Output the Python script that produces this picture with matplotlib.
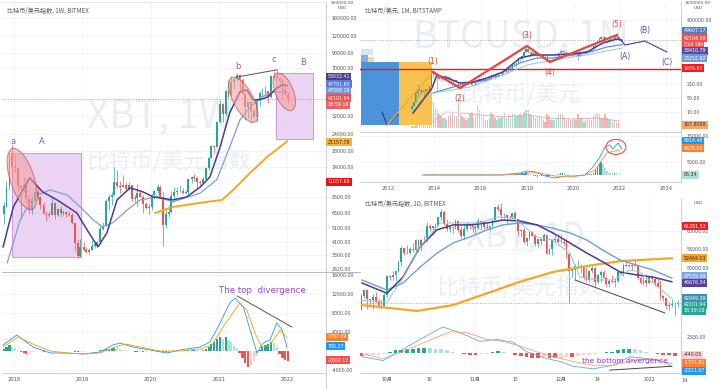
import numpy as np
import pandas as pd
import matplotlib
matplotlib.use('Agg')
import matplotlib.pyplot as plt
import matplotlib.transforms as mtransforms
from matplotlib.patches import Ellipse, Rectangle
from matplotlib.lines import Line2D
from matplotlib.ticker import NullLocator

CJK = ['Noto Sans CJK SC', 'DejaVu Sans']
UP, DN = '#26a69a', '#ef5350'

# -----------------------------
# Left panel: XBT 1W (read at half-month steps)
# -----------------------------
l_first_open = 6450
l_close = [7300, 10000, 17600, 13900,
           13600, 10200, 10100, 10300, 8250, 6900, 8000, 9240, 8500, 7500, 6450, 6400,
           6350, 7730, 6300, 7030, 6500, 6630, 6450, 6370, 5600, 4020, 3250, 3740,
           3600, 3460, 3600, 3830, 3920, 4100, 5050, 5320, 8000, 8560, 8800, 10820,
           10200, 10080, 10300, 9630, 10300, 8290, 8350, 9150, 8500, 7550, 7100, 7190,
           8800, 9350, 10000, 8540, 5350, 6420, 6650, 8630, 9300, 9450, 9450, 9140,
           9200, 11350, 11850, 11650, 10800, 10780, 11500, 13800, 16000, 19700, 19400, 28990,
           39000, 33110, 48000, 45240, 56000, 58800, 63200, 57700, 46400, 37300, 40100, 35040,
           31800, 41460, 47000, 47100, 48100, 43820, 61500, 61300, 60100, 57000, 48900, 46300,
           42100]
l_high = [7900, 11000, 17900, 19800,
          17300, 13700, 10300, 11800, 11700, 8900, 8400, 9800, 10000, 8600, 7800, 6800,
          6800, 8500, 7800, 7150, 7400, 6900, 6700, 6800, 6600, 5600, 4300, 4250,
          4100, 3750, 3700, 4200, 4000, 4150, 5450, 5650, 8300, 9000, 9300, 13900,
          13200, 11000, 12300, 10900, 10950, 10400, 8850, 10500, 9500, 8800, 7800, 7700,
          8900, 9550, 10500, 10300, 9200, 7000, 7450, 9450, 10000, 9950, 10400, 9800,
          9500, 11450, 12100, 12450, 12050, 11200, 11750, 13900, 16300, 19850, 19900, 29300,
          41950, 39500, 49700, 58350, 61700, 60000, 64850, 63500, 59500, 46600, 41300, 41300,
          36600, 42300, 48000, 50500, 52900, 48500, 62900, 67000, 69000, 60800, 59000, 52100,
          47500]
l_low = [5500, 7200, 9600, 12000,
         12800, 9400, 5900, 9300, 7800, 6600, 6400, 7900, 8100, 7000, 6400, 5750,
         6100, 6300, 5900, 6200, 6100, 6300, 6150, 6250, 5500, 3500, 3150, 3200,
         3500, 3400, 3350, 3600, 3700, 3880, 4100, 4950, 5300, 6900, 7450, 8800,
         9800, 9100, 10000, 9400, 9600, 7800, 7900, 7300, 8500, 6550, 7050, 6450,
         6850, 8250, 9150, 8450, 3800, 5100, 6150, 6500, 8100, 8800, 9300, 8900,
         9000, 9000, 10650, 11150, 9850, 10150, 10450, 11200, 13200, 16000, 17600, 19300,
         28800, 29000, 32300, 43000, 44900, 50300, 56900, 47000, 46000, 30000, 31000, 28800,
         31600, 29300, 37700, 43900, 42800, 39600, 43300, 58000, 60000, 53500, 42000, 45500,
         39650]
l_hist = [400, 800, 1200, 900,
          600, 300, -300, -500, -600, -500, -300, -200, -100, -100, -150, -100,
          -50, 0, -50, 0, 0, 0, 0, 0, -100, -200, -250, -200,
          -150, -100, -50, 0, 50, 100, 200, 250, 400, 500, 600, 700,
          600, 500, 300, 200, 100, -100, -200, -250, -200, -200, -150, -100,
          0, 100, 150, 100, -150, -300, -200, 0, 100, 150, 100, 50,
          50, 200, 300, 300, 200, 100, 200, 400, 800, 1400, 1900, 2600,
          2950, 2600, 2900, 2300, 1800, 1000, 600, -400, -1500, -2600, -3300, -3000,
          -2200, -1000, 300, 900, 1300, 1500, 1900, 1600, 900, -600, -1500, -1900,
          -2000]

l_ma_purple_t = [2017.84, 2017.99, 2018.23, 2018.42, 2018.63, 2018.92, 2019.07, 2019.23, 2019.36,
                 2019.51, 2019.70, 2019.89, 2020.04, 2020.33, 2020.53, 2020.73, 2020.87, 2021.02,
                 2021.16, 2021.31, 2021.41, 2021.50, 2021.60, 2021.72, 2021.85, 2021.94, 2022.00]
l_ma_purple = [3760, 7240, 11640, 9250, 8120, 6560, 4970, 3760, 4720,
               8120, 9880, 9250, 8520, 8120, 8520, 10040, 11820, 19340,
               33800, 47700, 49300, 41900, 41900, 43900, 50800, 53400, 53000]
l_ma_blue_t = [2017.90, 2018.09, 2018.28, 2018.53, 2018.78, 2018.97, 2019.16, 2019.30, 2019.45,
               2019.66, 2019.85, 2020.10, 2020.33, 2020.73, 2020.97, 2021.16, 2021.31, 2021.46,
               2021.60, 2021.79, 2022.00]
l_ma_blue = [2890, 5850, 8520, 9560, 8800, 7240, 5850, 5210, 5580,
             6890, 8120, 8520, 7860, 9090, 11270, 19340, 30100, 37200,
             43200, 47700, 47800]
l_ma_orange_t = [2020.07, 2020.33, 2020.83, 2021.05, 2021.21, 2021.46, 2021.71, 2022.00]
l_ma_orange = [6560, 7240, 7860, 8120, 9560, 12640, 16430, 21160]

l_macd_t = [2017.84, 2018.04, 2018.28, 2018.53, 2018.78, 2019.01, 2019.26, 2019.45, 2019.55,
            2019.74, 2019.99, 2020.24, 2020.43, 2020.73, 2020.87, 2021.02, 2021.16, 2021.24,
            2021.36, 2021.46, 2021.56, 2021.65, 2021.75, 2021.85, 2021.93, 2022.00]
l_macd = [1260, 3370, 840, -420, -420, -630, -210, 1260, 1680,
          840, 210, -420, 210, 840, 1900, 5890, 10100, 11160,
          9260, 4420, -420, 1680, 2320, 5890, 4420, 790]
l_signal_t = [2017.84, 2018.06, 2018.31, 2018.53, 2018.78, 2019.01, 2019.26, 2019.48, 2019.63,
              2019.85, 2020.14, 2020.43, 2020.73, 2020.90, 2021.08, 2021.31, 2021.41, 2021.53,
              2021.63, 2021.75, 2021.90, 2022.00]
l_signal = [840, 2950, 1260, 0, -420, -630, -420, 840, 1470,
            840, 0, 0, 420, 1260, 5470, 10100, 8630, 3790,
            840, 1260, 4420, 2790]

l_year_ticks = [2018, 2019, 2020, 2021, 2022]
l_price_ticks = [2620, 3300, 4100, 5100, 6500, 8500, 14000, 18000, 24000, 32000,
                 70000, 90000, 120000, 160000]
l_macd_ticks = [-4000, 4000, 8000, 12000, 16000]

# -----------------------------
# Right top: BTCUSD 1M (monthly, from 2013-01)
# -----------------------------
rt_first_open = 13.5
rt_close = [20, 33, 93, 139, 129, 97, 106, 135, 133, 198, 1130, 732,
            830, 550, 450, 447, 627, 640, 585, 478, 386, 338, 378, 320,
            217, 254, 244, 236, 230, 263, 284, 230, 236, 314, 377, 430,
            368, 437, 416, 448, 531, 673, 624, 575, 609, 700, 742, 964,
            970, 1190, 1080, 1350, 2300, 2480, 2875, 4700, 4340, 6470, 10000, 13860,
            10220, 10330, 6930, 9240, 7500, 6400, 7730, 7030, 6630, 6370, 4020, 3740,
            3460, 3830, 4100, 5320, 8560, 10820, 10080, 9630, 8290, 9150, 7550, 7190,
            9350, 8540, 6420, 8630, 9450, 9140, 11350, 11650, 10780, 13800, 19700, 28990,
            33110, 45240, 58800, 57700, 37300, 35040, 41460, 47100, 43820, 61300, 57000, 46300,
            42100]
rt_high = [21, 33, 95, 266, 140, 130, 111, 140, 140, 220, 1160, 1150,
           1000, 850, 710, 550, 630, 680, 650, 600, 500, 420, 460, 380,
           320, 265, 300, 260, 250, 270, 310, 300, 245, 330, 500, 465,
           465, 445, 440, 470, 550, 780, 700, 630, 630, 720, 760, 975,
           1150, 1200, 1350, 1350, 2700, 2980, 2900, 4750, 5000, 6470, 11400, 19800,
           17300, 11800, 11700, 9800, 10000, 7800, 8500, 7800, 7400, 7500, 6600, 4300,
           4100, 4200, 4150, 5650, 9000, 13900, 13200, 12300, 10950, 10500, 9500, 7800,
           9550, 10500, 9200, 9450, 10000, 10400, 11450, 12450, 12050, 14100, 19850, 29300,
           41950, 58350, 61700, 64850, 59500, 41300, 42300, 50500, 52900, 67000, 69000, 59000,
           47500]
rt_low = [13, 19, 33, 50, 80, 88, 65, 100, 120, 100, 190, 500,
          730, 100, 440, 340, 420, 550, 570, 450, 370, 275, 320, 300,
          150, 210, 235, 215, 225, 220, 255, 200, 225, 235, 305, 345,
          350, 365, 400, 410, 440, 525, 590, 470, 570, 600, 690, 740,
          750, 920, 890, 1060, 1330, 2150, 1800, 2700, 2970, 4150, 5500, 9500,
          9300, 5900, 6600, 6450, 7000, 5750, 6100, 5900, 6100, 6200, 3500, 3150,
          3350, 3350, 3700, 4100, 5300, 7450, 9100, 9400, 7800, 7300, 6550, 6450,
          6850, 8450, 3800, 6150, 8100, 8900, 8900, 10650, 9850, 10400, 13200, 17600,
          28800, 32300, 44900, 47000, 30000, 28800, 29300, 37700, 39600, 43300, 53500, 42000,
          39650]
rt_volume = [2, 2, 3, 4, 3, 2, 2, 2, 2, 3, 22, 26,
             20, 18, 14, 12, 10, 10, 8, 12, 14, 15, 12, 12,
             26, 14, 12, 10, 8, 10, 14, 16, 10, 14, 22, 18,
             14, 12, 8, 8, 10, 16, 14, 10, 8, 10, 10, 12,
             16, 10, 14, 10, 14, 14, 12, 12, 14, 12, 16, 18,
             18, 14, 12, 12, 10, 10, 12, 10, 8, 6, 14, 12,
             8, 8, 8, 10, 14, 14, 14, 10, 8, 10, 8, 8,
             10, 8, 14, 10, 10, 6, 8, 10, 8, 8, 12, 14,
             16, 14, 10, 10, 14, 10, 8, 8, 6, 8, 6, 6,
             3]
rt_vol_ma_t = [2013.9, 2014.5, 2015.2, 2016.0, 2017.0, 2018.0, 2019.0, 2020.0, 2021.0, 2022.0]
rt_vol_ma = [6, 16, 15, 13, 11, 13, 10, 9, 10, 7]
rt_hist = [0, 0, 0, 0, 0, 0, 0, 0, 0, 0, 20, 30,
           20, 0, -20, -30, -30, -20, -20, -20, -20, -20, -10, -10,
           -10, 0, 0, 0, 0, 0, 0, 0, 0, 0, 10, 10,
           10, 10, 0, 0, 10, 20, 10, 0, 0, 10, 10, 20,
           20, 30, 30, 60, 150, 200, 250, 400, 400, 600, 900, 1200,
           700, 300, -200, -400, -500, -600, -500, -500, -450, -400, -500, -500,
           -400, -300, -200, 0, 300, 600, 700, 600, 400, 300, 100, 0,
           100, 100, -100, -100, 0, 0, 100, 200, 200, 400, 900, 1800,
           3200, 4200, 5000, 4200, 2500, 1500, 900, 800, 700, 900, 700, 500,
           300]
rt_ma_purple_t = [2013.08, 2013.90, 2014.11, 2014.55, 2015.11, 2015.67, 2016.27, 2016.96, 2017.70,
                  2018.26, 2019.12, 2019.85, 2020.59, 2021.28, 2021.88, 2022.10]
rt_ma_purple = [8.9, 158, 708, 501, 282, 316, 501, 1000, 5010,
                7080, 7080, 7940, 10000, 28200, 44700, 38400]
rt_ma_blue_t = [2013.94, 2015.11, 2016.27, 2017.70, 2018.43, 2019.12, 2020.59, 2021.45, 2022.10]
rt_ma_blue = [89, 224, 398, 2820, 5010, 5010, 8910, 17800, 23250]
rt_ma_light_t = [2014.24, 2015.54, 2016.96, 2018.0, 2019.12, 2020.59, 2022.10]
rt_ma_light = [100, 178, 708, 2240, 3980, 7080, 15800]
rt_macd_t = [2013.5, 2016.9, 2017.7, 2018.0, 2018.35, 2018.78, 2019.2, 2019.64, 2020.07, 2020.5,
             2020.85, 2021.15, 2021.37, 2021.58, 2021.71, 2021.93, 2022.1]
rt_macd = [0, 0, 770, 1540, 1150, -390, -1150, -390, -390, 0,
           3080, 6930, 10780, 11550, 10000, 12300, 9910]
rt_signal_t = [2013.5, 2016.9, 2017.78, 2018.13, 2018.56, 2019.2, 2019.85, 2020.5, 2020.95,
               2021.22, 2021.45, 2021.71, 2022.0]
rt_signal = [0, 0, 390, 1150, 770, -390, -770, 0, 1930, 5770, 8470, 9000, 9630]
rt_waves_t = [2013.94, 2015.11, 2018.0, 2018.99, 2021.88]
rt_waves = [1000, 158, 19950, 3162, 70800]
rt_wave_names = ['(1)', '(2)', '(3)', '(4)', '(5)']
rt_proj_t = [2021.93, 2022.23, 2023.09, 2024.04]
rt_proj = [56200, 22400, 35500, 10000]
rt_proj_names = ['(A)', '(B)', '(C)']
rt_year_ticks = [2012, 2014, 2016, 2018, 2020, 2022, 2024]
rt_price_ticks = [10, 50, 250, 400000]

# -----------------------------
# Right bottom: XBT 1D (from 2021-09-22, day 0 = Oct 1)
# -----------------------------
rb_first_open = 40700
rb_close = [43600, 44900, 42800, 42700, 43200, 42200, 41000, 41500, 43800,
            48100, 47700, 48200, 49200, 51500, 55300, 53800, 53900, 55000, 54700, 57500,
            56000, 57400, 57300, 61700, 60900, 61500, 62000, 64300, 66000, 62200, 60700,
            61400, 60900, 63100, 60300, 58500, 60600, 62300, 61900, 61300,
            61000, 63200, 62900, 61400, 61000, 61500, 63300, 67500, 66900, 64900,
            64900, 64200, 64400, 65500, 63600, 60100, 60400, 56900, 58100, 59800,
            58700, 56300, 57600, 57200, 58900, 53600, 54800, 57300, 57800, 57000,
            56900, 56600, 53600, 49200, 49400, 50600, 50600, 50500, 47700, 47100,
            49300, 50100, 46700, 48400, 48900, 47600, 46200, 46800, 46700, 46900,
            49000, 48600, 50800, 50400, 50800, 50600, 50700, 47500, 46500, 47100, 46300,
            47700, 47300, 46400, 45800, 43400, 43100, 41500, 41700, 41900, 41800, 42100]
rb_high = [44000, 44900, 45000, 42900, 43900, 44300, 42800, 42600, 44100,
           48400, 48300, 49200, 49500, 51900, 55700, 55300, 56100, 55500, 56600, 57800,
           57600, 57700, 58500, 62800, 62300, 61700, 62600, 64400, 67000, 66600, 63700,
           61700, 61500, 63700, 63300, 61500, 62400, 62900, 62300, 62400,
           62400, 64200, 63500, 63100, 62600, 61600, 63300, 67700, 68500, 69000,
           65600, 65400, 64900, 65500, 66300, 63600, 60800, 60900, 58400, 59900,
           60000, 59300, 57800, 57800, 59400, 59200, 55300, 57400, 58800, 59200,
           59100, 57400, 57600, 53900, 49700, 50900, 51900, 51100, 50800, 50100,
           49400, 50600, 50200, 48600, 49400, 49400, 48000, 47300, 48300, 47500,
           49300, 49600, 51300, 51800, 51100, 51200, 52000, 50700, 48100, 47900, 48500,
           47900, 47900, 47600, 47500, 47000, 43700, 43100, 42300, 42800, 42200, 42600]
rb_low = [40500, 43100, 40800, 41700, 40800, 42100, 40900, 40800, 41400,
          43300, 47100, 47100, 46900, 49000, 50400, 53400, 53600, 53700, 54100, 54500,
          54000, 54300, 56800, 56900, 60200, 58900, 60100, 61500, 63500, 62000, 60000,
          59800, 59600, 60700, 59900, 58100, 57800, 60200, 60800, 59900,
          59500, 60700, 60400, 60700, 60800, 60100, 61400, 63300, 66400, 63400,
          64200, 62300, 63300, 63600, 63500, 58600, 58400, 56500, 55700, 57500,
          58600, 55700, 55400, 55900, 57200, 53600, 53700, 53300, 56800, 56500,
          56500, 55900, 52600, 42000, 47800, 47100, 50100, 48700, 47400, 46900,
          46700, 48700, 45800, 46300, 46600, 47600, 45500, 45600, 46400, 45600,
          46700, 48500, 48100, 50400, 50200, 49500, 50500, 47400, 46100, 46000, 45700,
          46200, 46700, 45700, 45600, 42600, 42500, 40700, 40600, 41300, 39650, 41300]
rb_hist = [-450, -400, -350, -300, -250, 200, 400, 500, 650, 700, 800, 850, 800, 700,
           600, 400, 150, 50, -200, -300, -350, -200, -150, 100, 250, 200, 0, -300,
           -500, -700, -800, -800, -700, -800, -900, -800, -700, -700, -500, -400, -300, -200,
           -100, 100, 200, 400, 600, 650, 600, 450, 200, -100, -200, -350, -400, -440]
rb_ma_orange_d = [-8.8, 10.5, 23.2, 35.1, 46.7, 58.2, 70.2, 81.8, 93.3, 100]
rb_ma_orange = [41600, 40400, 41600, 44100, 46700, 49000, 50500, 51700, 52200, 52460]
rb_ma_purple_d = [-8.8, 0, 5.6, 11.6, 17.5, 23.2, 29.1, 35.1, 40.7, 46.7, 52.6, 58.2, 64.2,
                  70.2, 75.8, 81.8, 87.7, 93.3, 100]
rb_ma_purple = [46400, 44100, 47800, 55500, 60400, 61900, 61900, 62500, 63400, 63100, 61900,
                59500, 56600, 53800, 51500, 49000, 48300, 47800, 46680]
rb_ma_blue_d = [-8.8, 0, 5.6, 11.6, 17.5, 23.2, 29.1, 35.1, 40.7, 46.7, 52.6, 58.2, 64.2,
                70.2, 75.8, 81.8, 87.7, 93.3, 100]
rb_ma_blue = [47100, 44800, 46400, 50200, 53800, 56600, 58300, 60400, 61900, 62500, 61900,
              60900, 59500, 57400, 54600, 52000, 50700, 49500, 47540]
rb_ma_fast_d = [-8.8, 0, 5.6, 11.6, 18.6, 25.6, 32.6, 38.6, 44.2, 46.7, 52.6, 58.2, 64.2,
                67.7, 73.7, 79.3, 85.3, 88.8, 93.3, 100]
rb_ma_fast = [42600, 42200, 47600, 55500, 62500, 62500, 62500, 64400, 64100, 62500, 58300,
              57400, 53800, 47800, 47100, 47100, 49500, 49000, 46400, 42950]
rb_macd_d = [-8.8, -1.4, 5.6, 11.6, 19.6, 25.6, 32.6, 38.6, 44.2, 49.1, 56.1, 60.7, 65.3,
             72.3, 79.3, 85.3, 91.2, 96.8, 100]
rb_macd = [-620, -1250, 620, 2180, 4210, 3280, 1870, 2180, 1720, 160, -940, -1400, -2180,
           -2600, -2030, -620, -940, -1400, -2220]
rb_signal_d = [-8.8, -1.4, 5.6, 11.6, 22.1, 28.1, 35.1, 40.7, 46.7, 52.6, 58.2, 65.3, 72.3,
               79.3, 86.3, 93.3, 100]
rb_signal = [-160, -940, 160, 1400, 3430, 3280, 2180, 1870, 1090, 160, -620, -1400, -2030,
             -2030, -1250, -940, -1760]
rb_day_ticks = [0, 15, 31, 45, 61, 74, 92]
rb_day_labels = ['10月', '16', '11月', '15', '12月', '14', '2022']
rb_price_ticks = [50000, 55000, 60000]

# -----------------------------
# Helpers
# -----------------------------
W, H = 720, 389
fig = plt.figure(figsize=(W / 100, H / 100), dpi=100)
fig.patch.set_facecolor('white')
PX = mtransforms.Affine2D().scale(1 / W, -1 / H).translate(0, 1) + fig.transFigure


def panel(x0, y0, x1, y1):
    return fig.add_axes([x0 / W, 1 - y1 / H, (x1 - x0) / W, (y1 - y0) / H])


def dec_year(d):
    d = pd.DatetimeIndex(d)
    return np.asarray(d.year + (d.dayofyear - 1) / 365.25)


def style(ax):
    for s in ('top', 'left'):
        ax.spines[s].set_visible(False)
    for s in ('right', 'bottom'):
        ax.spines[s].set_color('#c3c6cd')
        ax.spines[s].set_linewidth(0.6)
    ax.yaxis.tick_right()
    ax.tick_params(length=0, labelsize=3.4, labelcolor='#50535e', pad=4)
    ax.grid(True, color='#eef0f4', lw=0.5)
    ax.set_axisbelow(True)


def yticks(ax, vals):
    ax.set_yticks(vals)
    ax.set_yticklabels(['%.2f' % v for v in vals])
    ax.yaxis.set_minor_locator(NullLocator())


def draw_candles(ax, x, first_open, close, high, low, width, lw=0.5):
    close = np.asarray(close, float)
    opens = np.r_[first_open, close[:-1]]
    col = np.where(close >= opens, UP, DN)
    ax.vlines(x, low, high, colors=col, lw=lw, zorder=3)
    ax.bar(x, np.abs(close - opens), width, bottom=np.minimum(opens, close),
           color=col, lw=0, zorder=3)


def hist_colors(h):
    h = np.asarray(h, float)
    prev = np.r_[h[0], h[:-1]]
    return np.where(h >= 0, np.where(h >= prev, '#26a69a', '#b2dfdb'),
                    np.where(h <= prev, '#ef5350', '#ffcdd2'))


def ellipse(ax, cx, cy, w, h, ang, **kw):
    tr = fig.dpi_scale_trans + mtransforms.ScaledTranslation(cx, cy, ax.transData)
    ax.add_patch(Ellipse((0, 0), w / 100, h / 100, angle=ang, transform=tr, **kw))


def tag(x, y, s, bg, fg='white'):
    fig.text(x / W, 1 - y / H, s, fontsize=3.4, color=fg, ha='left', va='center', zorder=10,
             bbox=dict(boxstyle='square,pad=0.3', fc=bg, ec='none'))


def watermark(ax, x, y, s, size):
    ax.text(x, y, s, transform=PX, fontsize=size, color='#e9eef6', ha='center', va='center',
            family=CJK, zorder=0.6)


def title(x, y, s):
    fig.text(x / W, 1 - y / H, s, fontsize=4.4, color='#555a66', ha='left', va='center',
             family=CJK)


WAVE = '#9b4fd0'

# -----------------------------
# Left panel
# -----------------------------
l_dates = pd.date_range('2017-11-01', periods=len(l_close), freq='SMS')
l_x = dec_year(l_dates) + 7 / 365.25

axL = panel(2, 2, 326, 272)
axLM = panel(2, 272, 326, 373)
for ax in (axL, axLM):
    style(ax)
    ax.set_xlim(2017.824, 2022.571)
    ax.set_xticks(l_year_ticks)
axL.set_yscale('log')
axL.set_ylim(2490, 208000)
yticks(axL, l_price_ticks)
axL.tick_params(labelbottom=False)
axL.spines['bottom'].set_color('#a9acb3')

watermark(axL, 160, 117, 'XBT, 1W', 28)
watermark(axL, 168, 162, '比特币/美元指数', 16)

axL.add_patch(Rectangle((2017.97, 3190), 1.01, 17500 - 3190, fc='#e5c6f0', ec='#c27bd6',
                        lw=0.7, alpha=0.75, zorder=1))
axL.add_patch(Rectangle((2021.84, 22100), 0.54, 65000 - 22100, fc='#e5c6f0', ec='#c27bd6',
                        lw=0.7, alpha=0.75, zorder=1))
draw_candles(axL, l_x, l_first_open, l_close, l_high, l_low, 0.028)
axL.plot(l_ma_blue_t, l_ma_blue, color='#7b9fd8', lw=0.9, zorder=4)
axL.plot(l_ma_purple_t, l_ma_purple, color='#4a3a93', lw=1.1, zorder=4)
axL.plot(l_ma_orange_t, l_ma_orange, color='#f5a623', lw=1.4, zorder=4)
axL.axhline(42101.94, color='#9aa0aa', lw=0.5, ls=(0, (2, 2)), zorder=2)
for cx, cy, w, h, a in [(2018.12, 11440, 24, 64, 18), (2021.36, 41900, 20, 50, 28),
                        (2021.96, 47700, 18, 40, 22)]:
    ellipse(axL, cx, cy, w, h, a, fc='#f2a0a0', ec='#9c4a3a', lw=0.7, alpha=0.6, zorder=5)
axL.plot([2021.28, 2021.85], [61000, 68400], color='#555555', lw=0.7, zorder=6)
for s, t, p in [('a', 2017.99, 17500 * 1.12), ('A', 2018.40, 17500 * 1.12),
                ('b', 2021.28, 61000 * 1.10), ('c', 2021.80, 68400 * 1.10),
                ('B', 2022.24, 65000 * 1.10)]:
    axL.text(t, p, s, color=WAVE, fontsize=6, ha='center', va='bottom', zorder=6)

l_hcol = hist_colors(l_hist)
axLM.set_ylim(-4630, 16630)
yticks(axLM, l_macd_ticks)
axLM.bar(l_x, l_hist, 0.03, color=l_hcol, lw=0, zorder=2)
axLM.plot(l_macd_t, l_macd, color='#2196f3', lw=0.6, zorder=3)
axLM.plot(l_signal_t, l_signal, color='#ff9800', lw=0.6, zorder=3)
axLM.set_xticklabels([str(y) for y in l_year_ticks])
axLM.tick_params(axis='x', pad=3, labelsize=3.7)
axLM.text(2021.0, 12840, 'The top  divergence', color='#a040d0', fontsize=6.2,
          ha='left', va='center', zorder=6)
axLM.plot([2021.27, 2022.07], [11580, 5050], color='#555555', lw=0.7, zorder=6)

title(7, 11, '比特币/美元指数, 1W, BITMEX')

# -----------------------------
# Right top panel
# -----------------------------
rt_dates = pd.date_range('2013-01-01', periods=len(rt_close), freq='MS')
rt_x = dec_year(rt_dates) + 14 / 365.25

axV = panel(360, 2, 681, 132)
axRT = panel(360, 2, 681, 132)
axRTM = panel(360, 132, 681, 182)
axV.set_zorder(0.5)
axRT.set_zorder(1)
axRT.patch.set_alpha(0)
for ax in (axRT, axRTM, axV):
    ax.set_xlim(2010.79, 2024.65)
for ax in (axRT, axRTM):
    style(ax)
    ax.set_xticks(rt_year_ticks)
axRT.tick_params(labelbottom=False)
axRT.set_yscale('log')
axRT.set_ylim(1, 3.16e6)
yticks(axRT, rt_price_ticks)

axV.axis('off')
axV.set_ylim(-4, 126)
rt_open = np.r_[rt_first_open, rt_close[:-1]]
rt_vcol = np.where(np.asarray(rt_close) >= rt_open, '#a8dccf', '#f5b5b5')
axV.bar(rt_x, rt_volume, 0.06, color=rt_vcol, lw=0)
axV.plot(rt_vol_ma_t, rt_vol_ma, color='#f0a0a0', lw=0.6)
watermark(axV, 521, 37, 'BTCUSD, 1M', 27)
watermark(axV, 520, 95, '比特币/美元', 16)

axRT.add_patch(Rectangle((2010.83, 2.24), 1.64, 3162 - 2.24, fc='#4b93da', ec='none', zorder=1))
axRT.add_patch(Rectangle((2012.47, 2.24), 1.43, 3162 - 2.24, fc='#f7c24d', ec='none', zorder=1))
axRT.add_patch(Rectangle((2010.83, 7080), 0.52, 14125 - 7080, fc='#d6e6f7', ec='none', zorder=1))
axRT.add_patch(Rectangle((2010.83, 3162), 0.31, 7080 - 3162, fc='#7eb2ea', ec='none', zorder=1))
axRT.add_patch(Rectangle((2011.14, 3162), 0.26, 5620 - 3162, fc='#f6d98a', ec='none', zorder=1))
axRT.axhline(1459.67, color='#f01818', lw=1.0, zorder=4)
axRT.axhline(42104.56, color='#9aa0aa', lw=0.5, ls=(0, (2, 2)), zorder=2)
draw_candles(axRT, rt_x, rt_first_open, rt_close, rt_high, rt_low, 0.055, lw=0.4)
axRT.plot(rt_ma_light_t, rt_ma_light, color='#9cc0ea', lw=0.7, zorder=4)
axRT.plot(rt_ma_blue_t, rt_ma_blue, color='#6d8fd8', lw=0.9, zorder=4)
axRT.plot(rt_ma_purple_t, rt_ma_purple, color='#4a3a93', lw=1.1, zorder=4)
axRT.plot([2011.74, 2011.96, 2012.43], [10, 2.24, 7.9], color='#2b3a8c', lw=0.8, zorder=5)
axRT.plot([2011.96, rt_waves_t[0]], [2.24, rt_waves[0]], color='#f5a742', lw=1.0, zorder=5)
axRT.plot(rt_waves_t, rt_waves, color='#e8453c', lw=1.6, zorder=5)
axRT.plot(rt_proj_t, rt_proj, color='#5b4a9e', lw=0.9, zorder=5)
for i, (s, t, p) in enumerate(zip(rt_wave_names, rt_waves_t, rt_waves)):
    dy = 7.5 if i % 2 == 0 else -7.5
    axRT.annotate(s, (t, p), xytext=(0, dy), textcoords='offset points', ha='center',
                  va='center', fontsize=5.5, color='#e0453a', zorder=6)
for s, t, p, dy in zip(rt_proj_names, rt_proj_t[1:], rt_proj[1:], [-8, 7.5, -7.5]):
    axRT.annotate(s, (t, p), xytext=(0, dy), textcoords='offset points', ha='center',
                  va='center', fontsize=5.5, color='#5b4aa8', zorder=6)

axRTM.set_ylim(-2700, 16500)
yticks(axRTM, [5000, 15000])
axRTM.bar(rt_x, rt_hist, 0.06, color=hist_colors(rt_hist), lw=0, zorder=2)
axRTM.plot(rt_macd_t, rt_macd, color='#2196f3', lw=0.6, zorder=3)
axRTM.plot(rt_signal_t, rt_signal, color='#ff8a3d', lw=0.6, zorder=3)
ellipse(axRTM, 2021.84, 10780, 20, 15, 0, fc='none', ec='#e8553a', lw=0.8, zorder=5)
axRTM.set_xticklabels([str(y) for y in rt_year_ticks])
axRTM.tick_params(axis='x', pad=3, labelsize=3.7)

title(365, 11, '比特币/美元, 1M, BITSTAMP')

# -----------------------------
# Right bottom panel
# -----------------------------
rb_dates = pd.date_range('2021-09-22', periods=len(rb_close), freq='D')
rb_x = np.asarray((rb_dates - pd.Timestamp('2021-10-01')).days, float)

axRB = panel(360, 198, 681, 325)
axRBM = panel(360, 325, 681, 373)
for ax in (axRB, axRBM):
    style(ax)
    ax.set_xlim(-9.5, 103.2)
    ax.set_xticks(rb_day_ticks)
axRB.tick_params(labelbottom=False)
axRB.set_yscale('log')
axRB.set_ylim(37680, 70730)
yticks(axRB, rb_price_ticks)
axRB.spines['bottom'].set_color('#a9acb3')

watermark(axRB, 525, 237, 'XBT, 1D', 24)
watermark(axRB, 518, 288, '比特币/美元指数', 16)
axRB.axhline(42101.94, color='#9aa0aa', lw=0.5, ls=(0, (2, 2)), zorder=2)
draw_candles(axRB, rb_x, rb_first_open, rb_close, rb_high, rb_low, 0.62)
axRB.plot(rb_ma_orange_d, rb_ma_orange, color='#f5a623', lw=1.6, zorder=4)
axRB.plot(rb_ma_blue_d, rb_ma_blue, color='#6f9fd8', lw=1.0, zorder=4)
axRB.plot(rb_ma_purple_d, rb_ma_purple, color='#4a3a93', lw=1.1, zorder=4)
axRB.plot(rb_ma_fast_d, rb_ma_fast, color='#8cc7dc', lw=0.7, zorder=4)
axRB.plot([66, 97.5], [47100, 40000], color='#444444', lw=0.7, zorder=5)

axRBM.set_ylim(-3280, 4530)
yticks(axRBM, [2500])
axRBM.bar(rb_x[::2], rb_hist, 1.3, color=hist_colors(rb_hist), lw=0, zorder=2)
axRBM.plot(rb_macd_d, rb_macd, color='#5aa9e6', lw=0.6, zorder=3)
axRBM.plot(rb_signal_d, rb_signal, color='#f5a36b', lw=0.6, zorder=3)
axRBM.set_xticklabels(rb_day_labels, family=CJK)
axRBM.tick_params(axis='x', pad=3, labelsize=3.7)
axRBM.text(68.4, -1400, 'the bottom divergence', color='#9b30d9', fontsize=5.4,
           ha='left', va='center', zorder=6)
axRBM.plot([78.2, 100], [-2810, -2180], color='#444444', lw=0.7, zorder=6)

title(365, 204, '比特币/美元指数, 1D, BITMEX')

# -----------------------------
# Axis tags and frame lines
# -----------------------------
for s, y, bg, fg in [('53032.41', 77, '#4a3d8f', 'white'), ('47751.80', 84, '#5a7bd6', 'white'),
                     ('47006.19', 91, '#7297d6', 'white'), ('42101.94', 98, '#e55353', 'white'),
                     ('18:59:16', 105, '#e86464', 'white'), ('21157.78', 142, '#f8b040', '#333333'),
                     ('11057.68', 182, '#f01010', 'white'), ('2792.09', 337, '#ff7f2a', 'white'),
                     ('790.37', 346, '#2196f3', 'white'), ('-2002.13', 360, '#ef5350', 'white')]:
    tag(327.5, y, s, bg, fg)
for s, y, bg, fg in [('49607.17', 31, '#4a7fc9', 'white'), ('42104.56', 38, '#ef5350', 'white'),
                     ('22d 19h', 44, '#ef5350', 'white'), ('38410.79', 51, '#5b4aa5', 'white'),
                     ('23252.92', 58, '#7398dc', 'white'), ('1459.67', 68, '#f21c1c', 'white'),
                     ('167.8098', 125, '#f7a66b', '#333333'), ('9914.40', 141, '#2196f3', 'white'),
                     ('9629.05', 148, '#ff7f2a', 'white'), ('85.34', 175, '#b2dfdb', '#333333'),
                     ('61281.52', 226, '#f21c1c', 'white'), ('52464.03', 258, '#f5a623', '#333333'),
                     ('47535.49', 276, '#7ea6e0', 'white'), ('46676.34', 283, '#5b3f9e', 'white'),
                     ('42949.39', 298, '#3f8fb0', 'white'), ('42101.94', 305, '#26a69a', 'white'),
                     ('18:59:16', 311, '#26a69a', 'white'), ('-440.05', 355, '#ffcdd2', '#333333'),
                     ('-1761.81', 363, '#ff7f2a', 'white'), ('-2221.97', 371, '#2196f3', 'white')]:
    tag(683.5, y, s, bg, fg)

for x, y, s in [(331, 3, '200000.00'), (338, 8, 'USD'), (685, 3, '1000000.00'),
                (694, 8, 'USD'), (694, 203, 'USD')]:
    fig.text(x / W, 1 - y / H, s, fontsize=3.2, color='#50535e', ha='left', va='center')
fig.text(685 / W, 1 - 381 / H, '14', fontsize=3.7, color='#50535e', ha='center', va='center')

for xs, ys, c in [([2 / W, 360 / W], [1 - 272 / H, 1 - 272 / H], '#a9acb3'),
                  ([326 / W, 326 / W], [1 - 373 / H, 0], '#c3c6cd'),
                  ([2 / W, 326 / W], [1 - 2 / H, 1 - 2 / H], '#e3e5ea')]:
    fig.add_artist(Line2D(xs, ys, color=c, lw=0.6))

fig.savefig('out.png', dpi=100)
